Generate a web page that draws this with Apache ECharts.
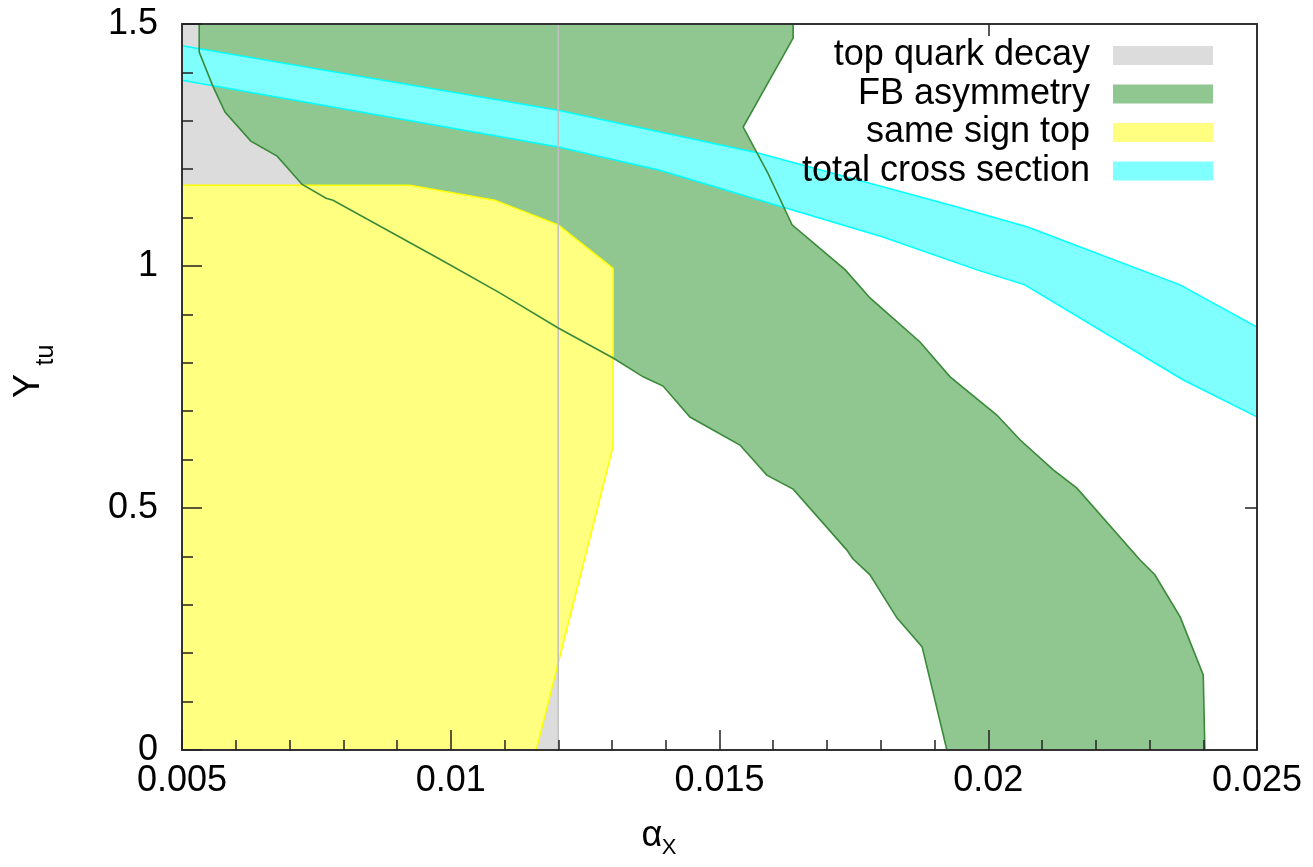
<!DOCTYPE html>
<html>
<head>
<meta charset="utf-8">
<script src="https://cdn.jsdelivr.net/npm/echarts@6/dist/echarts.min.js"></script>
<style>
  html, body { margin: 0; padding: 0; background: #ffffff; }
  #chart { width: 1313px; height: 867px; }
</style>
</head>
<body>
<div id="chart"></div>
<script>
// Legend entries, in drawing order
const regionNames = ['top quark decay', 'FB asymmetry', 'same sign top', 'total cross section'];

// Axis ticks
const xTicks = [0.005, 0.01, 0.015, 0.02, 0.025];
const yTicks = [0, 0.5, 1, 1.5];

// top quark decay: excluded strip for alpha_X below 0.012
const decayRegion = [[0.005, 0], [0.012, 0], [0.012, 1.5], [0.005, 1.5]];
const decayEdge = [[0.012, 0], [0.012, 1.5]];

// FB asymmetry band: left/lower edge (top to bottom)
const fbLowerEdge = [
  [0.00532, 1.5], [0.00532, 1.442], [0.00558, 1.370], [0.00580, 1.318], [0.00628, 1.258],
  [0.00677, 1.227], [0.00723, 1.169], [0.00768, 1.140], [0.00781, 1.136], [0.00980, 1.014],
  [0.01092, 0.944], [0.01200, 0.872], [0.01302, 0.810], [0.01358, 0.771], [0.01395, 0.752],
  [0.01445, 0.688], [0.01538, 0.630], [0.01588, 0.568], [0.01637, 0.539], [0.01737, 0.413],
  [0.01748, 0.395], [0.01780, 0.362], [0.01830, 0.273], [0.01877, 0.213], [0.01923, 0]
];
// FB asymmetry band: right/upper edge (bottom to top)
const fbUpperEdge = [
  [0.02403, 0], [0.02400, 0.155], [0.02357, 0.275], [0.02310, 0.362], [0.02282, 0.393],
  [0.02165, 0.541], [0.02121, 0.579], [0.02059, 0.641], [0.02016, 0.692], [0.01929, 0.771],
  [0.01873, 0.843], [0.01780, 0.934], [0.01734, 0.992], [0.01635, 1.085], [0.01590, 1.192],
  [0.01544, 1.287], [0.01637, 1.471], [0.01637, 1.5]
];

// same sign top exclusion region
const sameSignRegion = [
  [0.005, 0], [0.005, 1.167], [0.00924, 1.167], [0.01082, 1.136], [0.0120, 1.085],
  [0.01302, 0.995], [0.01302, 0.627], [0.01159, 0]
];

// total cross section band
const xsecUpper = [
  [0.005, 1.455], [0.012, 1.322], [0.01570, 1.234], [0.01929, 1.126],
  [0.02072, 1.081], [0.02357, 0.961], [0.025, 0.874]
];
const xsecLower = [
  [0.005, 1.384], [0.012, 1.246], [0.01389, 1.198], [0.01575, 1.136], [0.01804, 1.060],
  [0.01979, 0.992], [0.02068, 0.961], [0.02362, 0.765], [0.025, 0.688]
];

const colors = {
  decayFill: '#dcdcdc', decayLine: '#c0c0c0',
  fbFill: '#90c690', fbLine: '#3a8a3a',
  ssFill: '#ffff80', ssLine: '#ffff00',
  xsFill: '#80ffff', xsLine: '#00ffff'
};

const FONT = "'Liberation Sans', Arial, Helvetica, sans-serif";

function areaSeries(name, pts, fill, stroke, z) {
  return {
    type: 'custom', name: name, z: z, silent: true, clip: true,
    itemStyle: { color: fill },
    data: pts,
    renderItem: function (params, api) {
      if (params.dataIndex !== 0) return;
      return {
        type: 'polygon',
        shape: { points: pts.map(function (p) { return api.coord(p); }) },
        style: { fill: fill, stroke: stroke, lineWidth: stroke ? 1.5 : 0 }
      };
    }
  };
}

function edgeSeries(pts, stroke, width, z) {
  return {
    type: 'custom', z: z, silent: true, clip: true,
    data: pts,
    renderItem: function (params, api) {
      if (params.dataIndex !== 0) return;
      return {
        type: 'polyline',
        shape: { points: pts.map(function (p) { return api.coord(p); }) },
        style: { fill: null, stroke: stroke, lineWidth: width }
      };
    }
  };
}

const fbRegion = fbLowerEdge.concat(fbUpperEdge);
const xsecRegion = xsecUpper.concat(xsecLower.slice().reverse());

const fmt = function (v) { return String(+v.toFixed(4)); };

const frameLine = { show: true, onZero: false, lineStyle: { color: '#333333', width: 2 } };
const tickLine = { color: '#222222', width: 1.5 };

const chart = echarts.init(document.getElementById('chart'), null, { renderer: 'canvas' });
chart.setOption({
  backgroundColor: '#ffffff',
  animation: false,
  grid: { left: 182, top: 24, right: 56, bottom: 117, containLabel: false },
  xAxis: [
    {
      type: 'value', position: 'bottom', z: 10,
      min: xTicks[0], max: xTicks[xTicks.length - 1], interval: xTicks[1] - xTicks[0],
      axisLine: frameLine,
      axisTick: { inside: true, length: 20, lineStyle: tickLine },
      minorTick: { show: true, splitNumber: 5, length: 10, lineStyle: tickLine },
      splitLine: { show: false },
      axisLabel: { formatter: fmt, fontSize: 36, fontFamily: FONT, color: '#000', margin: 13 }
    },
    {
      type: 'value', position: 'top', z: 10,
      min: xTicks[0], max: xTicks[xTicks.length - 1], interval: xTicks[1] - xTicks[0],
      axisLine: frameLine,
      axisTick: { inside: true, length: 12, lineStyle: tickLine, customValues: [xTicks[3]] },
      splitLine: { show: false },
      axisLabel: { show: false }
    }
  ],
  yAxis: [
    {
      type: 'value', position: 'left', z: 10,
      min: yTicks[0], max: yTicks[yTicks.length - 1], interval: yTicks[1] - yTicks[0],
      axisLine: frameLine,
      axisTick: { inside: true, length: 20, lineStyle: tickLine },
      minorTick: { show: true, splitNumber: 5, length: 11, lineStyle: tickLine },
      splitLine: { show: false },
      axisLabel: { formatter: fmt, fontSize: 36, fontFamily: FONT, color: '#000', margin: 24 }
    },
    {
      type: 'value', position: 'right', z: 10,
      min: yTicks[0], max: yTicks[yTicks.length - 1], interval: yTicks[1] - yTicks[0],
      axisLine: frameLine,
      axisTick: { inside: true, length: 12, lineStyle: tickLine, customValues: [yTicks[1]] },
      splitLine: { show: false },
      axisLabel: { show: false }
    }
  ],
  legend: {
    orient: 'vertical', align: 'right', right: 100, top: 37.5, padding: 0, z: 20,
    itemWidth: 100, itemHeight: 19, itemGap: 2.5, selectedMode: false,
    textStyle: { fontSize: 36, fontFamily: FONT, color: '#000', lineHeight: 30, padding: [0, 18, 0, 0] },
    data: [
      { name: regionNames[0], icon: 'rect', itemStyle: { color: colors.decayFill, borderWidth: 0 } },
      { name: regionNames[1], icon: 'rect', itemStyle: { color: colors.fbFill, borderWidth: 0 } },
      { name: regionNames[2], icon: 'rect', itemStyle: { color: colors.ssFill, borderWidth: 0 } },
      { name: regionNames[3], icon: 'rect', itemStyle: { color: colors.xsFill, borderWidth: 0 } }
    ]
  },
  graphic: [
    { type: 'text', x: 29, y: 386, rotation: Math.PI / 2, z: 20,
      style: { text: 'Y', fontSize: 36, fontFamily: FONT, fill: '#000', align: 'center', verticalAlign: 'middle' } },
    { type: 'text', x: 46, y: 355, rotation: Math.PI / 2, z: 20,
      style: { text: 'tu', fontSize: 25, fontFamily: FONT, fill: '#000', align: 'center', verticalAlign: 'middle' } },
    { type: 'text', x: 652, y: 836, z: 20,
      style: { text: 'α', fontSize: 36, fontFamily: FONT, fill: '#000', align: 'center', verticalAlign: 'middle' } },
    { type: 'text', x: 669, y: 848, z: 20,
      style: { text: 'X', fontSize: 22, fontFamily: FONT, fill: '#000', align: 'center', verticalAlign: 'middle' } }
  ],
  series: [
    areaSeries(regionNames[0], decayRegion, colors.decayFill, null, 1),
    areaSeries(regionNames[1], fbRegion, colors.fbFill, null, 2),
    areaSeries(regionNames[2], sameSignRegion, colors.ssFill, colors.ssLine, 3),
    areaSeries(regionNames[3], xsecRegion, colors.xsFill, colors.xsLine, 4),
    edgeSeries(decayEdge, colors.decayLine, 1.5, 5),
    edgeSeries(fbLowerEdge, colors.fbLine, 1.6, 6),
    edgeSeries(fbUpperEdge, colors.fbLine, 1.6, 6)
  ]
});
</script>
</body>
</html>
